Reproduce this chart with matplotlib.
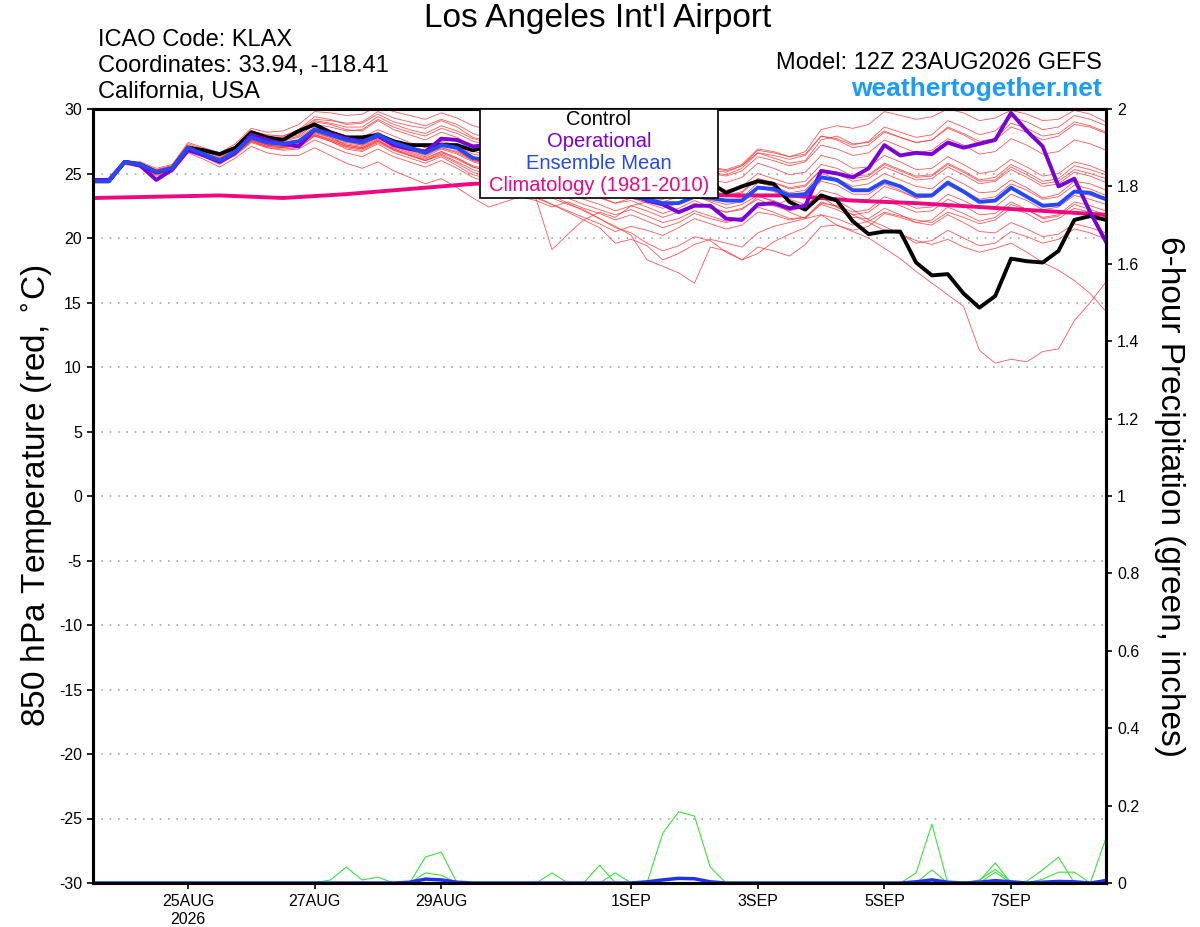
import numpy as np
import pandas as pd
import matplotlib
matplotlib.use("Agg")
import matplotlib.pyplot as plt
from matplotlib.patches import Rectangle

plt.rcParams['font.family'] = ['Liberation Sans', 'DejaVu Sans']
plt.rcParams['axes.unicode_minus'] = False

# 6-hourly forecast times from 12Z 23AUG2026
times = pd.date_range('2026-08-23 12:00', periods=65, freq='6h')
clim_times = pd.date_range('2026-08-23 12:00', periods=17, freq='D')

# Control run 850 hPa temperature (C)
control = [24.4, 24.4, 25.9, 25.7, 25.1, 25.4, 27.0, 26.8, 26.5, 27.0, 28.2, 27.8, 27.6,
           28.3, 28.8, 28.2, 27.8, 27.8, 28.0, 27.5, 27.2, 27.2, 27.2, 27.2, 26.8, 27.1,
           26.8, 26.5, 26.2, 26.0, 25.8, 25.6, 25.3, 25.0, 24.8, 24.6, 24.5, 24.4, 24.3,
           24.3, 23.5, 24.0, 24.4, 24.2, 22.8, 22.2, 23.3, 22.9, 21.3, 20.3, 20.5, 20.5,
           18.1, 17.1, 17.2, 15.7, 14.6, 15.5, 18.4, 18.2, 18.1, 19.0, 21.4, 21.7, 21.4]

# Operational run
operational = [24.5, 24.5, 25.9, 25.6, 24.5, 25.3, 26.8, 26.4, 25.9, 26.6, 28.0, 27.6, 27.3,
               27.1, 28.4, 28.1, 27.7, 27.5, 27.9, 27.2, 26.9, 26.7, 27.7, 27.6, 27.1, 27.2,
               26.9, 26.5, 26.0, 25.6, 25.3, 24.9, 24.4, 23.9, 23.4, 22.9, 22.6, 22.0, 22.5,
               22.5, 21.5, 21.4, 22.6, 22.7, 22.3, 22.5, 25.2, 25.0, 24.7, 25.4, 27.2, 26.4,
               26.6, 26.5, 27.4, 27.0, 27.3, 27.6, 29.7, 28.3, 27.1, 24.0, 24.6, 22.0, 19.7]

# Ensemble mean
ens_mean = [24.4, 24.4, 25.9, 25.7, 25.1, 25.4, 27.0, 26.5, 26.0, 26.7, 27.8, 27.4, 27.3,
            27.5, 28.4, 28.0, 27.6, 27.4, 28.0, 27.4, 27.0, 26.6, 27.2, 27.0, 26.2, 26.0,
            25.7, 25.4, 25.1, 24.8, 24.5, 24.2, 23.9, 23.5, 23.2, 23.0, 22.7, 22.7, 23.2,
            23.1, 22.9, 22.9, 23.9, 23.8, 23.3, 23.4, 24.7, 24.5, 23.7, 23.7, 24.4, 24.0,
            23.3, 23.3, 24.3, 23.6, 22.8, 22.9, 23.9, 23.2, 22.5, 22.6, 23.6, 23.5, 23.0]

# Climatology (1981-2010), daily
climatology = [23.1, 23.2, 23.3, 23.1, 23.4, 23.8, 24.2, 24.3, 24.0, 23.6, 23.3, 23.3,
               22.9, 22.7, 22.4, 22.1, 21.8]

# Ensemble members
m1 = [24.5, 24.5, 26.0, 25.8, 25.3, 25.6, 27.2, 26.8, 26.4, 27.0, 28.3, 28.0, 27.9,
      28.4, 29.4, 29.2, 28.8, 28.9, 29.6, 29.0, 28.7, 28.5, 29.1, 28.6, 27.8, 27.5,
      27.2, 27.0, 26.5, 26.4, 26.8, 26.2, 25.9, 25.4, 25.8, 25.3, 24.9, 25.2, 25.9,
      25.5, 25.2, 25.6, 26.6, 26.2, 25.8, 26.0, 27.6, 27.9, 27.3, 27.4, 28.3, 27.8,
      27.4, 27.6, 28.5, 28.0, 27.3, 27.6, 28.6, 28.2, 27.6, 27.9, 28.8, 28.6, 28.1]
m2 = [24.3, 24.3, 25.8, 25.5, 24.9, 25.2, 26.8, 26.3, 25.7, 26.5, 27.5, 27.0, 26.9,
      27.0, 27.9, 27.5, 26.9, 26.7, 27.3, 26.6, 26.2, 25.8, 26.3, 25.6, 24.9, 24.6,
      24.3, 23.8, 23.0, 19.1, 20.3, 21.4, 22.0, 21.6, 22.5, 22.8, 23.0, 23.5, 24.1,
      23.8, 23.3, 23.1, 24.3, 24.0, 23.5, 23.7, 25.0, 24.6, 24.0, 24.2, 25.0, 24.5,
      24.0, 23.8, 24.8, 24.2, 23.5, 23.6, 24.5, 23.9, 23.1, 23.4, 24.4, 24.2, 23.7]
m3 = [24.4, 24.4, 25.9, 25.6, 25.0, 25.3, 26.9, 26.4, 26.0, 26.6, 27.6, 27.2, 27.0,
      27.3, 28.1, 27.8, 27.2, 27.0, 27.6, 26.8, 26.4, 26.0, 26.5, 25.9, 25.3, 24.9,
      24.6, 24.2, 23.6, 23.1, 22.6, 22.2, 21.5, 20.9, 20.2, 18.3, 17.8, 17.3, 16.5,
      19.3, 19.0, 18.3, 18.8, 19.7, 20.3, 20.8, 21.8, 21.5, 21.0, 21.3, 22.0, 21.7,
      21.4, 21.2, 22.0, 21.6, 21.1, 21.4, 22.3, 21.9, 21.2, 21.5, 22.3, 22.0, 21.6]
m4 = [24.4, 24.4, 25.9, 25.7, 25.1, 25.5, 27.1, 26.6, 26.1, 26.8, 27.9, 27.5, 27.4,
      27.6, 28.5, 28.1, 27.7, 27.5, 28.2, 27.5, 27.1, 26.7, 27.3, 26.8, 26.0, 25.8,
      25.4, 25.2, 24.8, 24.4, 24.3, 23.9, 23.6, 23.2, 23.6, 23.0, 22.5, 22.8, 23.3,
      22.8, 22.3, 22.6, 23.3, 22.8, 22.0, 21.5, 21.8, 21.0, 20.5, 20.0, 19.2, 18.4,
      17.4, 16.5, 15.6, 14.7, 11.3, 10.3, 10.6, 10.4, 11.2, 11.4, 13.6, 15.0, 16.6]
m5 = [24.5, 24.5, 26.0, 25.8, 25.2, 25.5, 27.0, 26.6, 26.2, 26.8, 27.7, 27.3, 27.3,
      27.4, 28.2, 27.9, 27.5, 27.2, 27.8, 27.3, 26.9, 26.5, 27.0, 26.7, 26.1, 25.8,
      25.5, 25.0, 24.6, 24.2, 24.0, 23.6, 23.2, 22.7, 22.9, 22.4, 21.9, 22.3, 22.9,
      22.4, 22.0, 22.3, 23.0, 22.5, 23.0, 22.6, 23.2, 22.4, 21.8, 21.2, 20.6, 20.3,
      19.8, 19.5, 19.9, 19.3, 18.9, 19.2, 19.6, 18.9, 18.1, 17.5, 16.7, 15.7, 14.3]
m6 = [24.3, 24.3, 25.8, 25.6, 25.0, 25.3, 26.9, 26.5, 26.1, 26.7, 27.9, 27.6, 27.6,
      27.9, 28.8, 28.6, 28.3, 28.4, 29.2, 28.6, 28.2, 27.9, 28.5, 28.1, 27.5, 27.2,
      26.9, 26.6, 26.3, 26.0, 25.8, 25.4, 25.1, 24.8, 25.2, 24.9, 24.6, 24.9, 25.6,
      25.3, 25.1, 25.6, 26.8, 26.6, 26.3, 26.7, 28.4, 28.7, 28.5, 28.8, 29.8, 29.5,
      29.2, 29.4, 30.0, 29.7, 29.1, 29.3, 29.9, 29.6, 29.1, 29.2, 29.9, 29.6, 29.0]
m7 = [24.4, 24.4, 25.9, 25.7, 25.2, 25.4, 27.1, 26.6, 26.1, 26.8, 27.9, 27.5, 27.5,
      27.8, 28.6, 28.3, 27.9, 27.8, 28.4, 27.9, 27.4, 27.0, 27.5, 27.2, 26.7, 26.5,
      26.2, 25.9, 25.5, 25.1, 24.8, 24.4, 24.0, 23.7, 24.1, 23.8, 23.4, 23.8, 24.4,
      24.0, 23.7, 24.0, 25.0, 24.6, 24.2, 24.4, 25.7, 25.4, 24.8, 24.9, 25.8, 25.3,
      24.8, 24.9, 25.8, 25.2, 24.5, 24.7, 25.7, 25.1, 24.4, 24.6, 25.6, 25.3, 24.9]
m8 = [24.4, 24.4, 25.8, 25.6, 25.0, 25.2, 26.8, 26.3, 25.8, 26.4, 27.4, 27.0, 26.8,
      26.9, 27.6, 27.1, 26.6, 26.3, 26.9, 26.3, 25.9, 25.5, 26.0, 25.4, 24.7, 24.3,
      24.0, 23.6, 23.1, 22.6, 22.1, 21.6, 21.1, 20.5, 20.9, 20.6, 20.2, 20.8, 21.5,
      21.1, 20.7, 21.0, 22.0, 21.8, 21.4, 21.6, 22.8, 22.4, 21.8, 22.0, 22.9, 22.5,
      22.0, 22.1, 23.0, 22.5, 21.8, 21.9, 22.8, 22.2, 21.5, 21.7, 22.6, 22.2, 21.8]
m9 = [24.5, 24.5, 26.0, 25.8, 25.3, 25.6, 27.3, 26.9, 26.5, 27.1, 28.2, 27.9, 27.9,
      28.3, 29.2, 29.1, 28.9, 29.0, 29.8, 29.3, 29.0, 28.7, 29.2, 28.8, 28.1, 27.7,
      27.3, 26.8, 26.2, 25.7, 25.2, 24.7, 24.3, 23.8, 24.1, 23.6, 23.1, 23.4, 24.0,
      23.6, 23.3, 23.6, 24.6, 24.3, 23.9, 24.1, 25.3, 25.1, 24.6, 24.8, 25.7, 25.2,
      24.7, 24.8, 25.7, 25.1, 24.4, 24.5, 25.5, 24.9, 24.2, 24.4, 25.3, 25.0, 24.6]
m10 = [24.3, 24.3, 25.8, 25.5, 24.9, 25.2, 26.8, 26.3, 25.8, 26.5, 27.5, 27.1, 27.0,
       27.1, 27.9, 27.5, 27.0, 26.8, 27.4, 26.8, 26.4, 26.0, 26.6, 26.1, 25.5, 25.2,
       24.9, 24.5, 24.0, 23.6, 23.1, 22.6, 22.2, 21.8, 22.2, 21.7, 21.2, 21.5, 22.1,
       21.7, 21.3, 21.6, 22.4, 22.0, 21.5, 21.6, 22.6, 22.2, 21.6, 21.5, 22.3, 21.8,
       21.2, 21.0, 21.8, 21.2, 20.5, 20.4, 21.2, 20.7, 20.1, 20.3, 21.1, 20.8, 20.4]
m11 = [24.4, 24.4, 25.9, 25.7, 25.1, 25.4, 27.0, 26.6, 26.2, 26.9, 28.0, 27.7, 27.7,
       28.0, 29.0, 28.8, 28.4, 28.3, 29.1, 28.4, 28.0, 27.6, 28.2, 27.8, 27.1, 26.9,
       26.6, 26.4, 26.0, 25.7, 25.5, 25.2, 25.0, 24.6, 25.0, 24.7, 24.4, 24.7, 25.3,
       25.0, 24.8, 25.2, 26.3, 26.0, 25.6, 25.9, 27.2, 26.9, 26.4, 26.6, 27.6, 27.1,
       26.6, 26.8, 27.7, 27.2, 26.5, 26.7, 27.7, 27.2, 26.5, 26.7, 27.6, 27.3, 26.8]
m12 = [24.4, 24.4, 25.9, 25.6, 25.0, 25.3, 26.9, 26.4, 25.9, 26.6, 27.6, 27.2, 27.1,
       27.3, 28.0, 27.6, 27.1, 26.9, 27.5, 26.9, 26.4, 26.0, 26.4, 25.8, 25.1, 24.7,
       24.3, 23.8, 23.2, 22.6, 22.0, 21.4, 20.8, 19.6, 19.9, 19.4, 18.3, 18.8, 19.5,
       19.9, 19.6, 19.3, 20.4, 20.9, 21.2, 21.5, 22.7, 22.5, 22.0, 22.2, 23.2, 22.8,
       22.3, 22.4, 23.4, 22.9, 22.3, 22.4, 23.4, 22.9, 22.2, 22.4, 23.3, 23.0, 22.6]
m13 = [24.4, 24.4, 25.9, 25.7, 25.0, 25.3, 26.9, 26.4, 25.9, 26.6, 27.7, 27.3, 27.1,
       27.3, 28.2, 27.8, 27.3, 27.1, 27.7, 27.1, 26.7, 26.3, 26.9, 26.5, 25.9, 25.6,
       25.3, 25.0, 24.6, 24.2, 23.9, 23.5, 23.1, 22.7, 23.1, 22.7, 22.3, 22.7, 23.3,
       22.9, 22.6, 22.8, 23.9, 23.6, 23.1, 23.2, 24.4, 24.1, 23.4, 23.4, 24.2, 23.7,
       23.1, 23.2, 24.1, 23.5, 22.8, 22.9, 23.8, 23.2, 22.5, 22.7, 23.6, 23.3, 22.9]
m14 = [24.5, 24.5, 26.0, 25.8, 25.2, 25.5, 27.1, 26.7, 26.3, 27.0, 28.1, 27.8, 27.8,
       28.1, 29.1, 28.9, 28.6, 28.6, 29.4, 28.8, 28.4, 28.1, 28.7, 28.3, 27.7, 27.4,
       27.1, 26.8, 26.4, 26.0, 25.7, 25.3, 25.0, 24.6, 24.9, 24.5, 24.2, 24.6, 25.3,
       25.1, 24.9, 25.4, 26.6, 26.4, 26.1, 26.4, 27.9, 27.6, 27.0, 27.2, 28.2, 27.8,
       27.4, 27.6, 28.6, 28.1, 27.5, 27.7, 28.9, 28.5, 27.9, 28.1, 29.0, 28.7, 28.2]
m15 = [24.3, 24.3, 25.8, 25.6, 25.0, 25.3, 26.9, 26.4, 25.9, 26.5, 27.5, 27.1, 27.0,
       27.2, 28.0, 27.6, 27.1, 26.9, 27.5, 26.9, 26.5, 26.1, 26.7, 26.2, 25.5, 25.2,
       24.8, 24.4, 23.9, 23.3, 22.7, 22.1, 21.5, 20.8, 20.4, 19.6, 19.0, 19.4, 20.1,
       19.8, 18.9, 18.3, 19.3, 19.0, 18.6, 19.5, 20.9, 21.0, 20.6, 20.9, 21.9, 21.6,
       21.2, 21.4, 22.4, 21.9, 21.3, 21.6, 22.6, 22.2, 21.6, 21.8, 22.8, 22.5, 22.1]
m16 = [24.4, 24.4, 25.9, 25.7, 25.1, 25.4, 27.0, 26.5, 26.0, 26.7, 27.8, 27.4, 27.3,
       27.5, 28.4, 28.1, 27.6, 27.5, 28.1, 27.5, 27.1, 26.8, 27.4, 27.1, 26.5, 26.3,
       26.0, 25.7, 25.3, 25.0, 24.8, 24.5, 24.3, 24.0, 24.5, 24.1, 23.7, 24.1, 24.8,
       24.5, 24.3, 24.7, 25.8, 25.4, 24.9, 25.1, 26.4, 26.1, 25.4, 25.5, 26.4, 25.9,
       25.3, 25.4, 26.3, 25.7, 25.0, 25.2, 26.1, 25.5, 24.8, 25.0, 25.9, 25.6, 25.1]
m17 = [24.3, 24.3, 25.7, 25.5, 24.8, 25.1, 26.6, 26.1, 25.5, 26.2, 27.1, 26.6, 26.4,
       26.4, 27.0, 26.4, 25.8, 25.4, 25.9, 25.2, 24.7, 24.2, 24.6, 23.9, 23.1, 22.4,
       22.8, 23.2, 22.9, 22.4, 22.8, 22.3, 21.9, 21.4, 21.8, 21.3, 20.8, 21.2, 21.9,
       21.5, 21.2, 21.5, 22.7, 22.5, 22.1, 22.4, 23.7, 23.4, 22.8, 23.0, 24.0, 23.6,
       23.1, 23.2, 24.2, 23.7, 23.0, 23.2, 24.2, 23.7, 23.0, 23.2, 24.1, 23.8, 23.3]
m18 = [24.5, 24.5, 26.0, 25.9, 25.4, 25.7, 27.4, 27.0, 26.6, 27.3, 28.5, 28.2, 28.3,
       28.8, 29.8, 29.7, 29.5, 29.6, 30.2, 29.8, 29.5, 29.2, 29.7, 29.3, 28.7, 28.4,
       28.0, 27.6, 27.1, 26.7, 26.4, 26.0, 25.7, 25.3, 25.6, 25.2, 24.8, 25.1, 25.8,
       25.5, 25.3, 25.7, 26.9, 26.7, 26.3, 26.5, 27.9, 27.7, 27.2, 27.5, 28.6, 28.2,
       27.8, 28.0, 29.1, 28.6, 28.0, 28.3, 29.4, 29.0, 28.4, 28.6, 29.5, 29.2, 28.7]
m19 = [24.4, 24.4, 25.9, 25.7, 25.1, 25.4, 27.0, 26.5, 26.0, 26.7, 27.7, 27.3, 27.2,
       27.4, 28.3, 27.9, 27.4, 27.2, 27.8, 27.2, 26.8, 26.4, 27.0, 26.6, 26.0, 25.7,
       25.4, 25.1, 24.7, 24.4, 24.1, 23.8, 23.5, 23.1, 23.5, 23.2, 22.8, 23.2, 23.8,
       23.5, 23.2, 23.5, 24.6, 24.3, 23.8, 24.0, 25.3, 25.0, 24.4, 24.6, 25.5, 25.0,
       24.5, 24.6, 25.5, 24.9, 24.2, 24.4, 25.3, 24.7, 24.0, 24.2, 25.1, 24.8, 24.3]
m20 = [24.4, 24.4, 25.8, 25.6, 25.0, 25.3, 26.9, 26.4, 25.9, 26.6, 27.6, 27.2, 27.1,
       27.2, 28.0, 27.7, 27.2, 27.0, 27.6, 27.0, 26.6, 26.2, 26.7, 26.2, 25.6, 25.3,
       25.0, 24.6, 24.1, 23.7, 23.4, 23.0, 22.6, 22.1, 22.5, 22.1, 21.6, 22.0, 22.7,
       22.3, 22.0, 22.2, 23.2, 22.9, 22.4, 22.5, 23.4, 22.9, 22.2, 21.4, 20.9, 20.3,
       19.6, 19.8, 20.6, 20.0, 19.4, 19.6, 20.5, 20.1, 19.6, 19.9, 20.7, 20.4, 19.9]
members = [m1, m2, m3, m4, m5, m6, m7, m8, m9, m10,
           m11, m12, m13, m14, m15, m16, m17, m18, m19, m20]

# 6-hour precipitation (inches): members with rain, and ensemble mean
p1 = [0]*15 + [0.008, 0.041, 0.008, 0.015, 0] + [0]*45
p2 = [0]*21 + [0.067, 0.080, 0] + [0]*28 + [0.026, 0.152, 0] + [0]*10
p3 = [0]*21 + [0.026, 0.020, 0] + [0]*12 + [0.129, 0.184, 0.173, 0.041, 0] + [0]*24
p4 = [0]*29 + [0.026, 0, 0, 0.046, 0] + [0]*22 + [0.005, 0.052, 0] + [0]*5 + [0.116]
p5 = ([0]*33 + [0.026, 0] + [0]*18 +
      [0.034, 0, 0.003, 0, 0.028, 0, 0.005, 0.034, 0.067, 0, 0, 0.01])
p6 = [0]*52 + [0.003, 0.01, 0, 0, 0.008, 0.035, 0.004, 0, 0.01, 0.028, 0.028, 0, 0.004]
precip_members = [p1, p2, p3, p4, p5, p6]
precip_mean = ([0]*20 + [0.002, 0.010, 0.008, 0.002] + [0]*11 +
               [0.003, 0.008, 0.012, 0.011, 0.003] + [0]*12 +
               [0.003, 0.008, 0.002, 0, 0.002, 0.006, 0.003, 0, 0.002, 0.004, 0.003, 0, 0.006])

tick_dates = pd.to_datetime(['2026-08-25', '2026-08-27', '2026-08-29', '2026-09-01',
                             '2026-09-03', '2026-09-05', '2026-09-07'])
tick_labels = ['25AUG\n2026', '27AUG', '29AUG', '1SEP', '3SEP', '5SEP', '7SEP']

fig = plt.figure(figsize=(12, 9.27), dpi=100)
ax = fig.add_axes([93/1200, 1 - 883/927, (1106 - 93)/1200, (883 - 109)/927])
ax2 = ax.twinx()

for m in members:
    ax.plot(times, m, color='#ff3b3b', lw=0.6, alpha=0.85, zorder=2)
ax.plot(clim_times, climatology, color='#f0077f', lw=2.8, zorder=3)
ax.plot(times, control, color='black', lw=2.8, zorder=4)
ax.plot(times, operational, color='#7a00d8', lw=2.8, zorder=5)
ax.plot(times, ens_mean, color='#2448ff', lw=2.8, zorder=6)

for p in precip_members:
    ax2.plot(times, p, color='#3ee03e', lw=0.8)
ax2.plot(times, precip_mean, color='#2030f0', lw=2.5)

ax.set_xlim(times[0], times[-1])
ax.set_ylim(-30, 30)
ax2.set_ylim(0, 2)
ax.set_yticks(np.arange(-30, 31, 5))
ax2.set_yticks(np.arange(0, 2.01, 0.2))
ax2.set_yticklabels(['0', '0.2', '0.4', '0.6', '0.8', '1', '1.2', '1.4', '1.6', '1.8', '2'])
ax.set_xticks(tick_dates)
ax.set_xticklabels(tick_labels)

for yv in range(-25, 30, 5):
    ax.axhline(yv, color='#a8a8a8', lw=1.2, ls=(0, (1, 4)), zorder=1)

for a in (ax, ax2):
    for s in a.spines.values():
        s.set_linewidth(2.2)
    a.tick_params(labelsize=11.5, width=1.2, length=4.5)

ax.set_ylabel('850 hPa Temperature (red, $^{\\circ}$C)', fontsize=24, labelpad=3)
ax2.set_ylabel('6-hour Precipitation (green, inches)', fontsize=24, rotation=270, labelpad=33)

# legend box
ax2.add_patch(Rectangle((0.382, 0.885), 0.235, 0.115, transform=ax2.transAxes,
                        facecolor='white', edgecolor='black', lw=1.2, zorder=20))
leg = [('Control', 'black'), ('Operational', '#7a00d8'),
       ('Ensemble Mean', '#2448ff'), ('Climatology (1981-2010)', '#f0077f')]
for k, (txt, c) in enumerate(leg):
    ax2.text(0.4995, 0.986 - 0.0283*k, txt, color=c, fontsize=14.5, ha='center', va='center',
             transform=ax2.transAxes, zorder=21)

fig.text(598/1200, 1 - 18/927, "Los Angeles Int'l Airport", fontsize=24, ha='center', va='center')
fig.text(98/1200, 1 - 40/927, 'ICAO Code: KLAX', fontsize=17, ha='left', va='center')
fig.text(98/1200, 1 - 66/927, 'Coordinates: 33.94, -118.41', fontsize=17, ha='left', va='center')
fig.text(98/1200, 1 - 92/927, 'California, USA', fontsize=17, ha='left', va='center')
fig.text(1102/1200, 1 - 63/927, 'Model: 12Z 23AUG2026 GEFS', fontsize=17, ha='right', va='center')
fig.text(1102/1200, 1 - 89/927, 'weathertogether.net', fontsize=19, ha='right', va='center',
         color='#1a9cff', fontweight='bold')

fig.savefig('out.png', dpi=100)
